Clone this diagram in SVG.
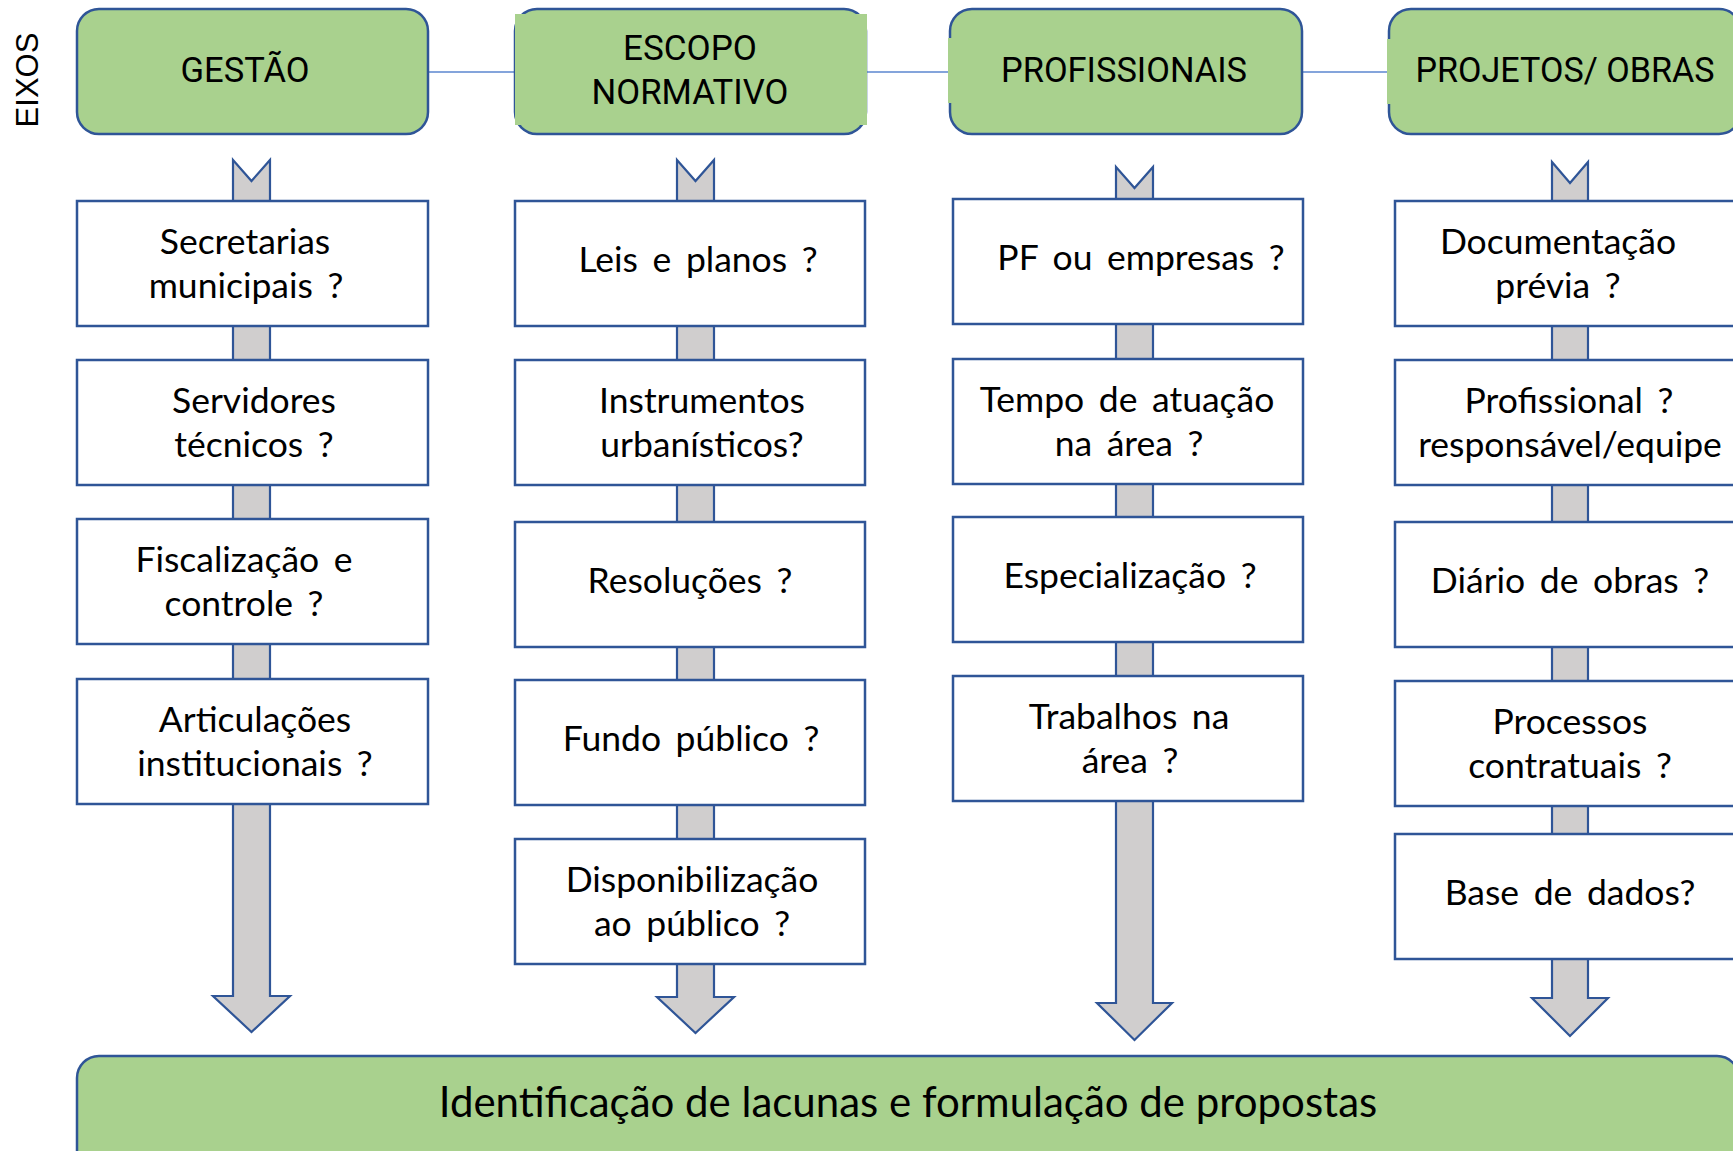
<svg xmlns="http://www.w3.org/2000/svg" width="1733" height="1151" viewBox="0 0 1733 1151">
<style>
.top{fill:#A9D18E;stroke:#2F5597;stroke-width:2.5}
.patch{fill:#A9D18E;stroke:none}
.box{fill:#FFFFFF;stroke:#2F5597;stroke-width:2.5}
.arrow{fill:#D0CECE;stroke:#2F5597;stroke-width:2.2;stroke-linejoin:miter}
.link{stroke:#5B86CF;stroke-width:1.6;fill:none}
.tt{font-family:Roboto,"Liberation Sans",sans-serif;font-size:35px;fill:#000;text-anchor:middle}
.bt{font-family:Lato,"Open Sans",sans-serif;font-size:35.5px;word-spacing:5.5px;fill:#000;text-anchor:middle}
.ft{font-family:Lato,"Open Sans",sans-serif;font-size:42px;fill:#000;text-anchor:middle}
.ax{font-family:"Liberation Sans",Arial,sans-serif;font-size:31px;fill:#000;text-anchor:middle}
</style>
<rect width="1733" height="1151" fill="#FFFFFF"/>
<text class="ax" transform="translate(38,80) rotate(-90)">EIXOS</text>
<g id="connectors">
<line class="link" x1="428" y1="72" x2="515" y2="72"/>
<line class="link" x1="866" y1="72" x2="950" y2="72"/>
<line class="link" x1="1302" y1="72" x2="1389" y2="72"/>
<path class="arrow" d="M233,160 L251.5,181 L270,160 L270,996 L290,996 L251.5,1032 L213,996 L233,996 Z"/>
<path class="arrow" d="M677,160 L695.5,181 L714,160 L714,997 L734,997 L695.5,1033 L657,997 L677,997 Z"/>
<path class="arrow" d="M1116,167 L1134.5,188 L1153,167 L1153,1003 L1172,1003 L1134.5,1040 L1097,1003 L1116,1003 Z"/>
<path class="arrow" d="M1552,162 L1570,183 L1588,162 L1588,998 L1608,998 L1570,1036 L1532,998 L1552,998 Z"/>
</g>
<g id="axis-gestao">
<rect class="top" x="77" y="9" width="351" height="125" rx="22"/>
<text class="tt" x="245" y="82" textLength="129" lengthAdjust="spacingAndGlyphs">GESTÃO</text>
</g>
<g id="axis-escopo">
<rect class="top" x="515" y="9" width="351" height="125" rx="22"/>
<rect class="patch" x="515" y="14" width="352" height="111"/>
<text class="tt" x="690" y="60" textLength="134" lengthAdjust="spacingAndGlyphs">ESCOPO</text>
<text class="tt" x="690" y="104" textLength="197" lengthAdjust="spacingAndGlyphs">NORMATIVO</text>
</g>
<g id="axis-profissionais">
<rect class="top" x="950" y="9" width="352" height="125" rx="22"/>
<rect class="patch" x="948" y="38" width="6" height="65"/>
<text class="tt" x="1124" y="82" textLength="246" lengthAdjust="spacingAndGlyphs">PROFISSIONAIS</text>
</g>
<g id="axis-projetos">
<rect class="top" x="1389" y="9" width="352" height="125" rx="22"/>
<rect class="patch" x="1387" y="39" width="6" height="65"/>
<text class="tt" x="1565" y="82" textLength="299" lengthAdjust="spacingAndGlyphs">PROJETOS/ OBRAS</text>
</g>
<g id="g1"><rect class="box" x="77" y="201" width="351" height="125"/><text class="bt" x="245" y="254">Secretarias</text><text class="bt" x="246" y="298">municipais ?</text></g>
<g id="g2"><rect class="box" x="77" y="360" width="351" height="125"/><text class="bt" x="254" y="413">Servidores</text><text class="bt" x="254" y="457">técnicos ?</text></g>
<g id="g3"><rect class="box" x="77" y="519" width="351" height="125"/><text class="bt" x="244" y="572">Fiscalização e</text><text class="bt" x="244" y="616">controle ?</text></g>
<g id="g4"><rect class="box" x="77" y="679" width="351" height="125"/><text class="bt" x="255" y="732">Articulações</text><text class="bt" x="255" y="776">institucionais ?</text></g>
<g id="e1"><rect class="box" x="515" y="201" width="350" height="125"/><text class="bt" x="698" y="272">Leis e planos ?</text></g>
<g id="e2"><rect class="box" x="515" y="360" width="350" height="125"/><text class="bt" x="702" y="413">Instrumentos</text><text class="bt" x="702" y="457">urbanísticos?</text></g>
<g id="e3"><rect class="box" x="515" y="522" width="350" height="125"/><text class="bt" x="690" y="593">Resoluções ?</text></g>
<g id="e4"><rect class="box" x="515" y="680" width="350" height="125"/><text class="bt" x="691" y="751">Fundo público ?</text></g>
<g id="e5"><rect class="box" x="515" y="839" width="350" height="125"/><text class="bt" x="692" y="892">Disponibilização</text><text class="bt" x="692" y="936">ao público ?</text></g>
<g id="p1"><rect class="box" x="953" y="199" width="350" height="125"/><text class="bt" x="1141" y="270">PF ou empresas ?</text></g>
<g id="p2"><rect class="box" x="953" y="359" width="350" height="125"/><text class="bt" x="1127" y="412">Tempo de atuação</text><text class="bt" x="1129" y="456">na área ?</text></g>
<g id="p3"><rect class="box" x="953" y="517" width="350" height="125"/><text class="bt" x="1130" y="588">Especialização ?</text></g>
<g id="p4"><rect class="box" x="953" y="676" width="350" height="125"/><text class="bt" x="1129" y="729">Trabalhos na</text><text class="bt" x="1130" y="773">área ?</text></g>
<g id="o1"><rect class="box" x="1395" y="201" width="352" height="125"/><text class="bt" x="1558" y="254">Documentação</text><text class="bt" x="1558" y="298">prévia ?</text></g>
<g id="o2"><rect class="box" x="1395" y="360" width="352" height="125"/><text class="bt" x="1569" y="413">Profissional ?</text><text class="bt" x="1570" y="457">responsável/equipe</text></g>
<g id="o3"><rect class="box" x="1395" y="522" width="352" height="125"/><text class="bt" x="1570" y="593">Diário de obras ?</text></g>
<g id="o4"><rect class="box" x="1395" y="681" width="352" height="125"/><text class="bt" x="1570" y="734">Processos</text><text class="bt" x="1570" y="778">contratuais ?</text></g>
<g id="o5"><rect class="box" x="1395" y="834" width="352" height="125"/><text class="bt" x="1570" y="905">Base de dados?</text></g>
<g id="result">
<rect class="top" x="77" y="1056" width="1662" height="130" rx="22"/>
<text class="ft" x="908" y="1117">Identificação de lacunas e formulação de propostas</text>
</g>
</svg>
